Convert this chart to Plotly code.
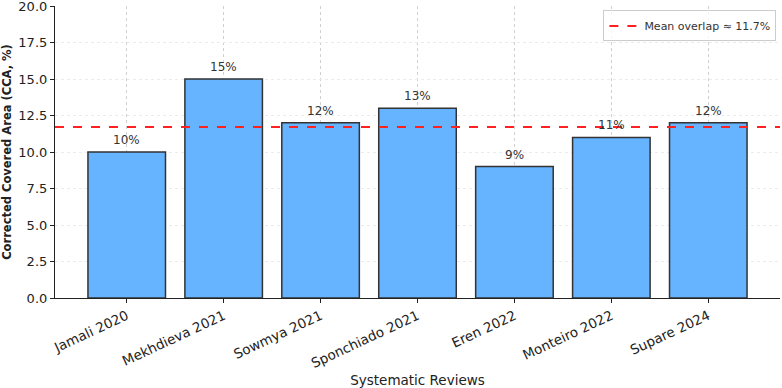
import plotly.graph_objects as go

reviews = ["Jamali 2020", "Mekhdieva 2021", "Sowmya 2021", "Sponchiado 2021",
           "Eren 2022", "Monteiro 2022", "Supare 2024"]
cca = [10, 15, 12, 13, 9, 11, 12]
mean_cca = sum(cca) / len(cca)
y_ticks = [0, 2.5, 5, 7.5, 10, 12.5, 15, 17.5, 20]

font = "DejaVu Sans"
fig = go.Figure()
fig.add_trace(go.Bar(
    x=list(range(len(reviews))), y=cca, width=0.8,
    marker=dict(color="#66b3ff", line=dict(color="#333333", width=1.5)),
    showlegend=False, hoverinfo="skip"))
fig.add_trace(go.Scatter(
    x=[-0.74, 6.74], y=[mean_cca, mean_cca], mode="lines",
    line=dict(color="#ff2020", width=2, dash="dash"),
    name=f"Mean overlap ≈ {mean_cca:.1f}%"))

for i, v in enumerate(cca):
    fig.add_annotation(x=i, y=v, text=f"{v}%", showarrow=False, yanchor="bottom",
                       yshift=3, font=dict(family=font, size=12, color="#333333"))

fig.update_layout(
    width=782, height=388, margin=dict(l=55, r=2, t=6, b=90),
    plot_bgcolor="white", paper_bgcolor="white",
    font=dict(family=font, size=13, color="#222222"),
    bargap=0.2,
    legend=dict(x=0.995, y=0.985, xanchor="right", yanchor="top",
                bgcolor="rgba(255,255,255,0.8)", bordercolor="#cccccc", borderwidth=1,
                font=dict(family=font, size=11, color="#333333")),
    xaxis=dict(range=[-0.74, 6.74], tickmode="array", tickvals=list(range(len(reviews))),
               ticktext=reviews, tickangle=-25, showline=True, linecolor="#222222",
               linewidth=1.2, ticks="outside", ticklen=4, tickcolor="#222222",
               showgrid=True, gridcolor="#d0d0d0", griddash="3px,3px", gridwidth=0.8,
               zeroline=False, tickfont=dict(size=13.5, color="#222222"), automargin=False,
               title=dict(text="Systematic Reviews", font=dict(size=13.5, color="#222222"), standoff=10)),
    yaxis=dict(range=[0, 20], tickmode="array", tickvals=y_ticks,
               ticktext=[f"{t:.1f}" for t in y_ticks], ticklabeloverflow="allow",
               showline=True, linecolor="#222222", linewidth=1.2, ticks="outside",
               ticklen=4, tickcolor="#222222", showgrid=True, gridcolor="#ebebeb",
               griddash="3px,3px", gridwidth=0.8, zeroline=False, automargin=False,
               tickfont=dict(size=13, color="#222222"),
               title=dict(text="<b>Corrected Covered Area (CCA, %)</b>",
                          font=dict(size=11.5, color="#222222"), standoff=6)),
)
fig.write_html("out.html")
